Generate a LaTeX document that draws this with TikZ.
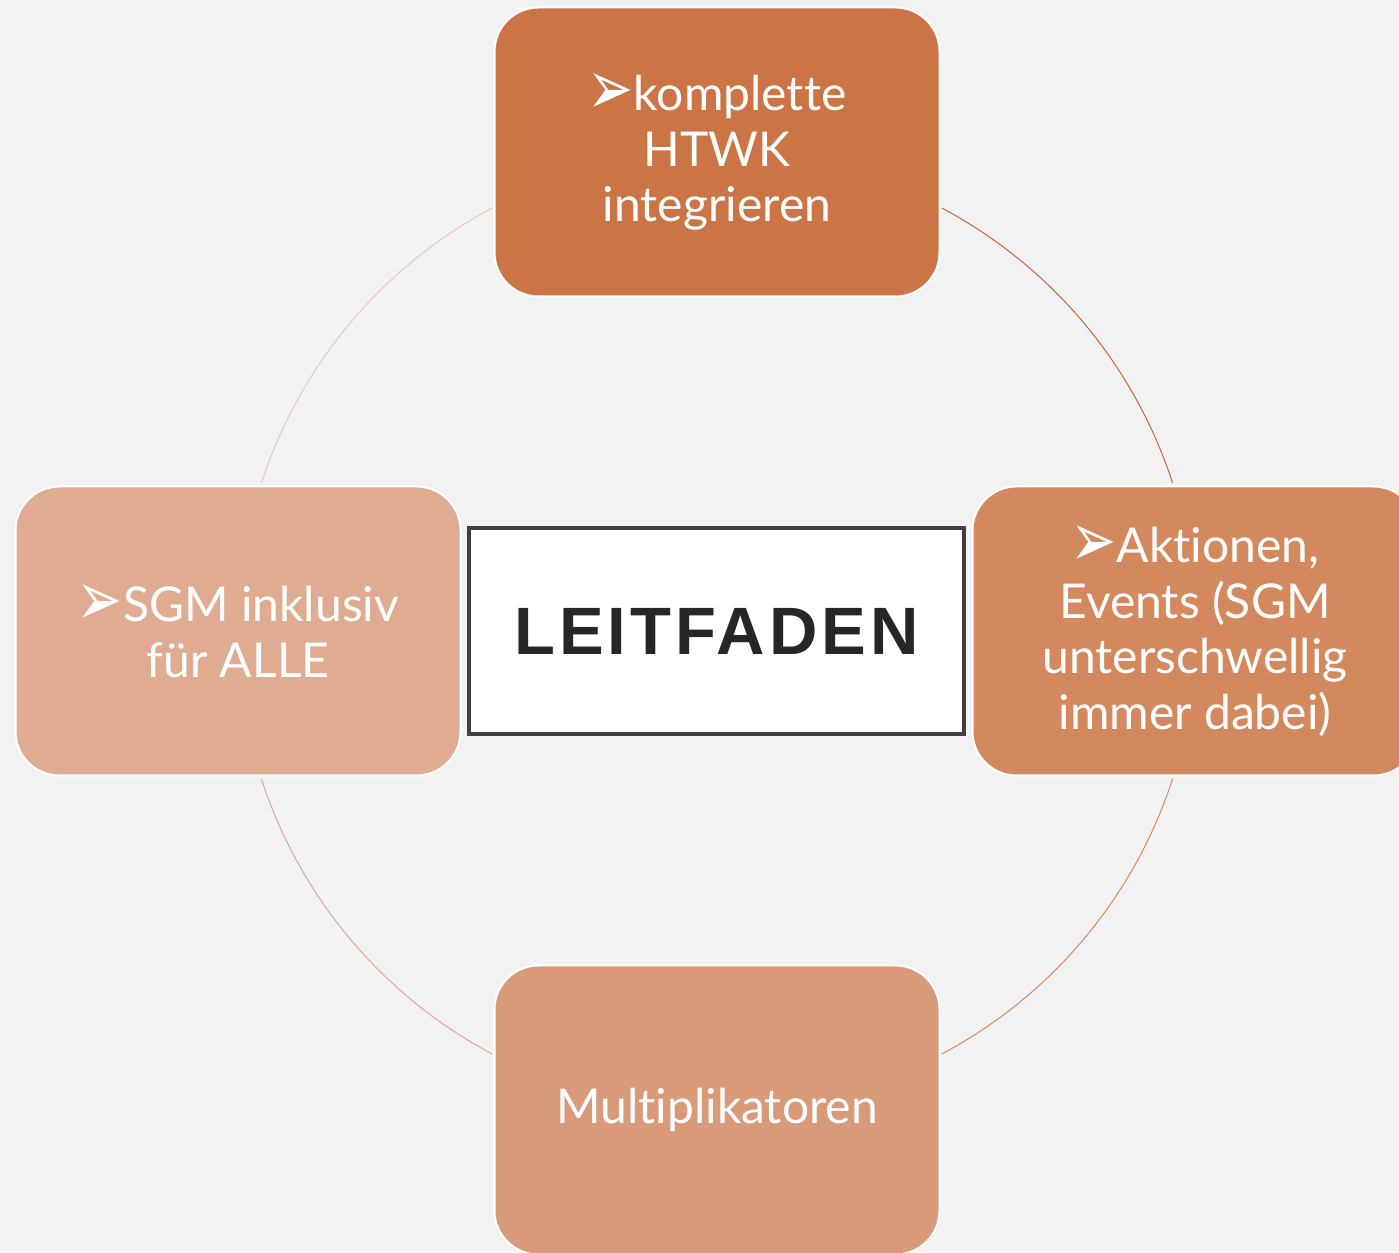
\documentclass[tikz,border=0pt]{standalone}
\usepackage{fontspec}
\setmainfont{Lato}[Ligatures=NoCommon]
\newfontfamily\arrowfont{DejaVu Sans}
\newfontfamily\titlefont[LetterSpace=6]{Liberation Sans}
\usetikzlibrary{positioning}

\definecolor{bgcol}{HTML}{F2F2F2}
\definecolor{topcol}{HTML}{CB7546}
\definecolor{rightcol}{HTML}{D3885E}
\definecolor{bottomcol}{HTML}{D99A79}
\definecolor{leftcol}{HTML}{DFAC92}
\definecolor{ringTR}{HTML}{C8683A}
\definecolor{ringBR}{HTML}{D98A60}
\definecolor{ringBL}{HTML}{E0A898}
\definecolor{ringTL}{HTML}{E8C8BA}
\definecolor{leitline}{HTML}{404040}
\definecolor{leittext}{HTML}{262626}

\newcommand{\bul}{\raisebox{-4pt}{\scalebox{1.15}[1.6]{\arrowfont\char"27A2}}}

\begin{document}
\begin{tikzpicture}[x=1pt, y=1pt]
    \tikzset{
        petal/.style={rounded corners=44pt, draw=white, line width=2pt,
            minimum width=445pt, minimum height=289pt, inner sep=0pt,
            text=white, align=center, font=\fontsize{48}{55.5}\selectfont},
        ring/.style={line width=1pt},
        leitbox/.style={draw=leitline, line width=4.5pt, fill=white,
            minimum width=495pt, minimum height=206pt, inner sep=0pt,
            text=leittext, font=\titlefont\bfseries\fontsize{67}{67}\selectfont},
    }
    \clip (0,0) rectangle (1399,1252);
    \fill[bgcol] (0,0) rectangle (1399,1252);

    \coordinate (c) at (717,621); %% centre of the ring

    % ring between the boxes
    \foreach \a/\col in {18/ringTR, 118/ringTL, 198/ringBL, 298/ringBR} {
            \draw[ring, \col] (c) ++(\a:479) arc[start angle=\a, delta angle=44, radius=479];
        }

    \node[leitbox] (leit) at (716.5,621) {LEITFADEN};

    \node[petal, fill=topcol] (htwk) at (717,1100) {\bul komplette\\HTWK\\integrieren};
    \node[petal, fill=rightcol] (aktion) at (1195,621) {\bul Aktionen,\\Events (SGM\\unterschwellig\\immer dabei)};
    \node[petal, fill=bottomcol] (multi) at (717,142) {Multiplikatoren};
    \node[petal, fill=leftcol] (sgm) at (238,621) {\bul SGM inklusiv\\für ALLE};
\end{tikzpicture}
\end{document}
